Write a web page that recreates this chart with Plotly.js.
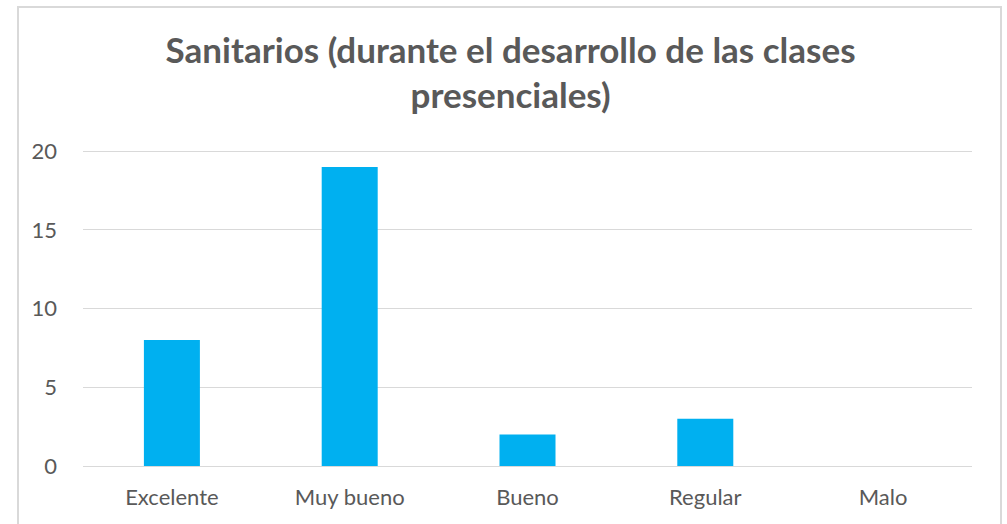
<!DOCTYPE html>
<html>
<head>
<meta charset="utf-8">
<script src="https://cdn.plot.ly/plotly-3.0.1.min.js"></script>
<style>
  body { margin: 0; background: #fff; }
  #chart { width: 1007px; height: 524px; }
</style>
</head>
<body>
<div id="chart"></div>
<script>
  const categories = ['Excelente', 'Muy bueno', 'Bueno', 'Regular', 'Malo'];
  const values = [8, 19, 2, 3, 0];
  const yTicks = [0, 5, 10, 15, 20];

  const trace = {
    x: categories,
    y: values,
    type: 'bar',
    marker: { color: '#00B0F0' },
    hoverinfo: 'x+y'
  };

  const textColor = '#595959';

  const layout = {
    width: 1007,
    height: 524,
    margin: { l: 83, r: 35, t: 145, b: 58 },
    paper_bgcolor: '#fff',
    plot_bgcolor: '#fff',
    font: { family: 'Lato, "Open Sans", sans-serif', color: textColor, size: 22 },
    title: {
      text: '<b>Sanitarios (durante el desarrollo de las clases<br>presenciales)</b>',
      font: { size: 35, color: textColor },
      x: 0.507,
      xanchor: 'center',
      y: 0.88,
      yanchor: 'top'
    },
    bargap: 0.685,
    showlegend: false,
    xaxis: {
      showgrid: false,
      showline: true,
      linecolor: '#D9D9D9',
      linewidth: 1,
      ticks: '',
      ticklabelstandoff: 12,
      tickfont: { size: 22, color: textColor },
      fixedrange: true
    },
    yaxis: {
      range: [0, 20.4],
      tickvals: yTicks,
      showgrid: true,
      gridcolor: '#D9D9D9',
      gridwidth: 1,
      zeroline: false,
      showline: false,
      ticks: '',
      ticklabelstandoff: 25,
      tickfont: { size: 22, color: textColor },
      fixedrange: true
    },
    shapes: [{
      type: 'rect',
      xref: 'paper', yref: 'paper',
      x0: -0.0731, x1: 1.0326, y0: -0.25, y1: 1.43,
      line: { color: '#D9D9D9', width: 2 },
      fillcolor: 'rgba(0,0,0,0)',
      layer: 'below'
    }]
  };

  Plotly.newPlot('chart', [trace], layout, { displayModeBar: false });
</script>
</body>
</html>
